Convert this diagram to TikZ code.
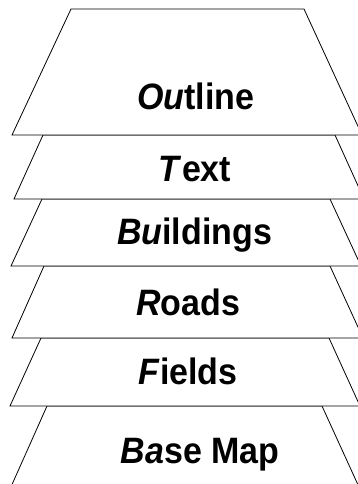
\documentclass[tikz,border=0pt]{standalone}
\usepackage{fontspec}
\setmainfont{Liberation Sans}
\tikzset{
  layer/.style={draw=black, fill=white, line width=0.8pt, line join=miter},
  lbl/.style={font=\fontsize{34}{38}\selectfont\bfseries, inner sep=0pt, anchor=base, yscale=1.08, transform shape}
}
\begin{document}
\begin{tikzpicture}[x=1pt,y=-1pt]
  \useasboundingbox (0,0) rectangle (358,484);
  \clip (0,0) rectangle (358,484);
  % Base Map
  \path[layer] (47,406) -- (322,406) -- (364,498) -- (6,498) -- cycle;
  % Fields
  \path[layer] (41,338) -- (329,338) -- (360,406) -- (10,406) -- cycle;
  % Roads
  \path[layer] (44,266) -- (330,266) -- (363,338) -- (12,338) -- cycle;
  % Buildings
  \path[layer] (42,199) -- (330,199) -- (361,266) -- (11,266) -- cycle;
  % Text
  \path[layer] (43,135) -- (335,135) -- (364,199) -- (14,199) -- cycle;
  % Outline
  \path[layer] (71,9) -- (304,9) -- (362,135) -- (12,135) -- cycle;

  \node[lbl] (outline) at (196,110) {\textit{Ou}tline};
  \node[lbl] (text) at (195,181) {\textit{T}ext};
  \node[lbl] (buildings) at (194.5,244) {\textit{Bu}ildings};
  \node[lbl] (roads) at (188,315) {\textit{R}oads};
  \node[lbl] (fields) at (188,384) {\textit{F}ields};
  \node[lbl] (basemap) at (200,463) {\textit{Ba}se Map};
\end{tikzpicture}
\end{document}
